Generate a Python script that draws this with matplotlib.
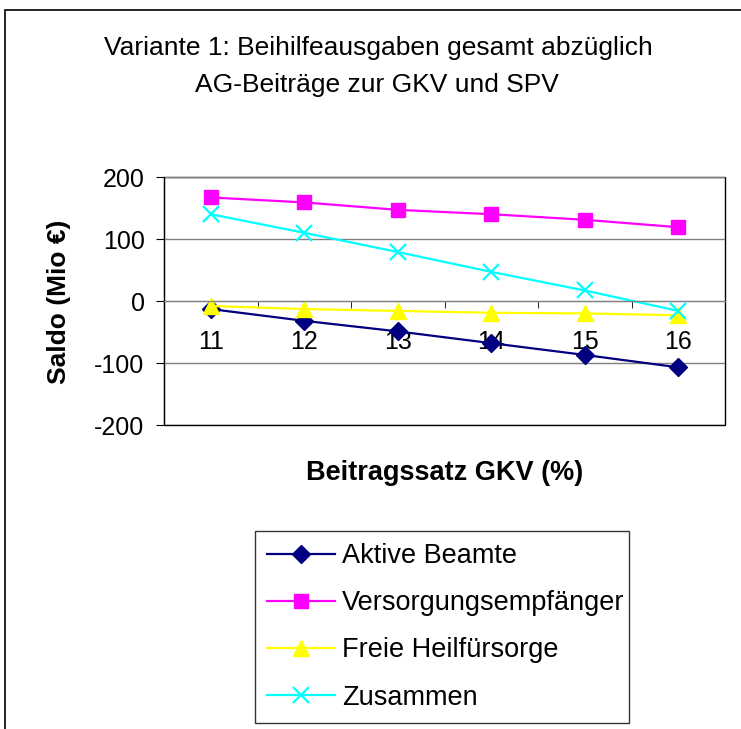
"""Variante 1 - Saldo nach Beitragssatz GKV"""

import matplotlib
matplotlib.use("Agg")
import matplotlib.pyplot as plt
from matplotlib.patches import Rectangle

# Dades
beitragssatz = ["11", "12", "13", "14", "15", "16"]
aktive_beamte = [-13, -32, -49, -68, -87, -107]
versorgungsempfaenger = [167, 159, 147, 140, 131, 119]
freie_heilfuersorge = [-8, -13, -16, -19, -20, -23]
zusammen = [140, 110, 79, 47, 17, -16]

plt.rcParams["font.family"] = ["Liberation Sans", "DejaVu Sans"]

W, H = 741, 729
fig = plt.figure(figsize=(W / 100, H / 100), dpi=100)

# Marc exterior
fig.patches.append(Rectangle((5 / W, -0.1), 2, 1 - 10 / H + 0.1, transform=fig.transFigure,
                             fill=False, edgecolor="black", linewidth=1.2))

ax = fig.add_axes([164 / W, 1 - 425 / H, (725 - 164) / W, (425 - 177) / H])

x = range(len(beitragssatz))
ax.plot(x, aktive_beamte, color="#000080", marker="D", markersize=9, linewidth=1.6, label="Aktive Beamte")
ax.plot(x, versorgungsempfaenger, color="#FF00FF", marker="s", markersize=10, linewidth=1.6, label="Versorgungsempfänger")
ax.plot(x, freie_heilfuersorge, color="#FFFF00", marker="^", markersize=11, linewidth=1.6, label="Freie Heilfürsorge")
ax.plot(x, zusammen, color="#00FFFF", marker="x", markersize=12, markeredgewidth=1.6, linewidth=1.6, label="Zusammen")

ax.set_xlim(-0.5, len(beitragssatz) - 0.5)
ax.set_ylim(-200, 200)
ax.set_yticks([-200, -100, 0, 100, 200])
ax.set_yticklabels(["-200", "-100", "0", "100", "200"], fontsize=18)

# Eix X creuant a 0
ax.spines["bottom"].set_position(("data", 0))
ax.spines["bottom"].set_color("#808080")
for s in ["top", "right"]:
    ax.spines[s].set_visible(False)
ax.spines["left"].set_color("black")
ax.add_patch(Rectangle((0, 0), 1, 1, transform=ax.transAxes, fill=False,
                       edgecolor="black", linewidth=1.0, clip_on=False, zorder=0))

ax.set_xticks(list(x))
ax.set_xticklabels(beitragssatz, fontsize=18)
ax.set_xticks([i + 0.5 for i in range(len(beitragssatz) - 1)], minor=True)
ax.tick_params(axis="x", which="major", length=0, pad=21)
ax.tick_params(axis="x", which="minor", length=5, direction="out", color="black")
ax.tick_params(axis="y", length=6, direction="out", pad=8)

ax.grid(axis="y", color="#808080", linewidth=1.0)
ax.set_axisbelow(True)

# Textos
fig.text(378 / W, 1 - 48 / H, "Variante 1: Beihilfeausgaben gesamt abzüglich",
         ha="center", va="center", fontsize=19)
fig.text(377 / W, 1 - 85 / H, "AG-Beiträge zur GKV und SPV",
         ha="center", va="center", fontsize=19)
fig.text(59 / W, 1 - 302 / H, "Saldo (Mio €)", rotation=90, ha="center", va="center",
         fontsize=19, fontweight="bold")
fig.text(445 / W, 1 - 473 / H, "Beitragssatz GKV (%)", ha="center", va="center",
         fontsize=19.5, fontweight="bold")

leg = fig.legend(loc="upper left", bbox_to_anchor=(255 / W, 1 - 722 / H, (629 - 255) / W, (722 - 531) / H),
                 bbox_transform=fig.transFigure,
                 mode="expand", fontsize=19.5, frameon=True, fancybox=False, edgecolor="black",
                 handlelength=2.5, handletextpad=0.25, labelspacing=0.78, borderpad=0.45,
                 borderaxespad=0)
leg.get_frame().set_linewidth(1.0)

plt.savefig("out.png", dpi=100)
plt.close(fig)
